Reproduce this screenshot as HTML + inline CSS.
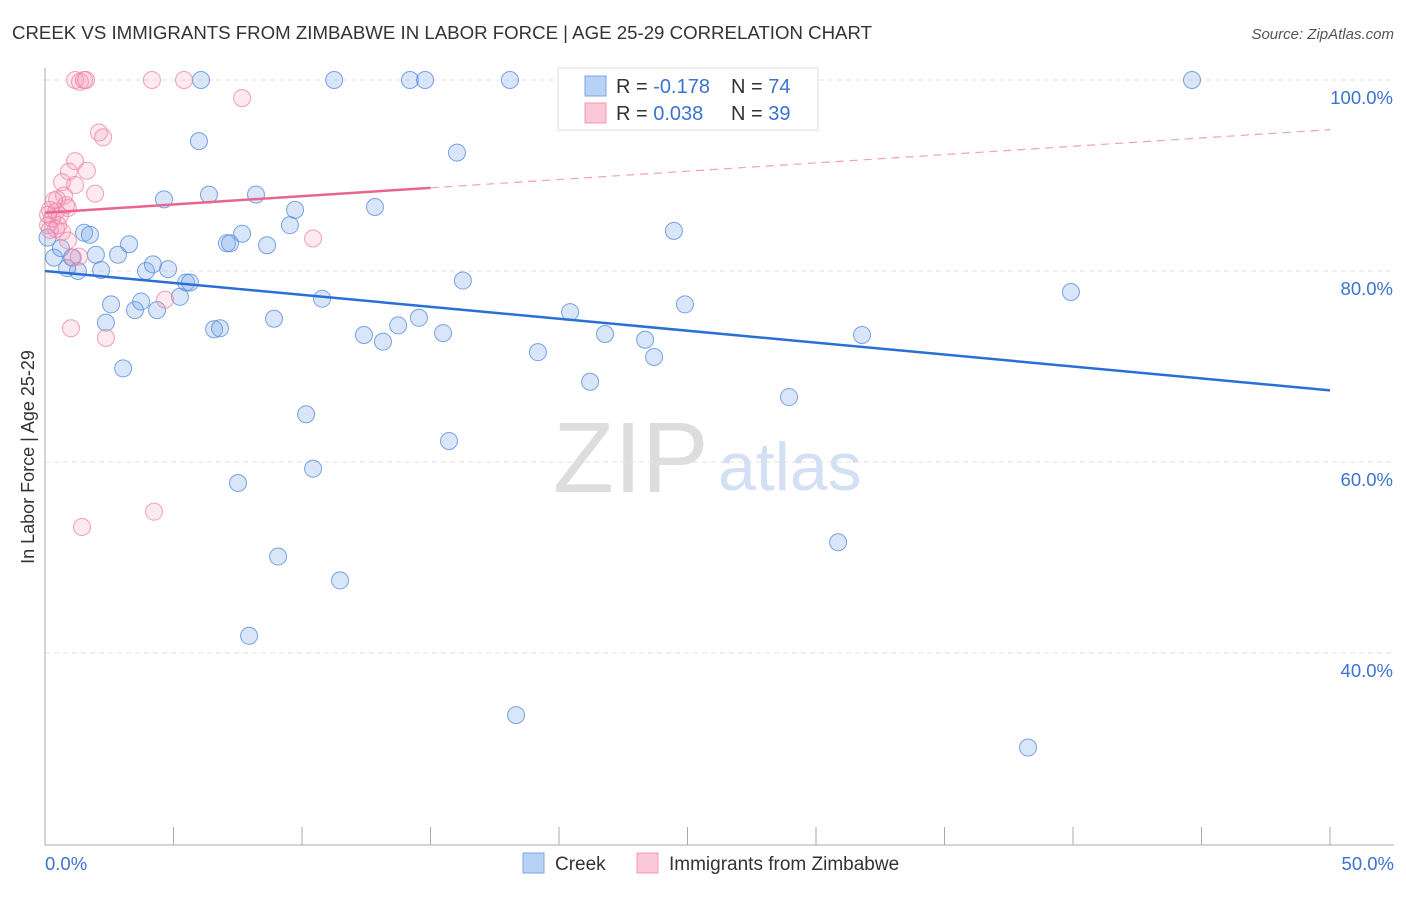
<!DOCTYPE html>
<html><head><meta charset="utf-8"><style>
body{margin:0;background:#fff;font-family:"Liberation Sans",sans-serif}
svg text{font-family:"Liberation Sans",sans-serif}
</style></head><body>
<svg id="chart" width="1406" height="892">
<text x="12" y="39" font-size="18" fill="#333" textLength="860" lengthAdjust="spacingAndGlyphs">CREEK VS IMMIGRANTS FROM ZIMBABWE IN LABOR FORCE | AGE 25-29 CORRELATION CHART</text>
<text x="1394" y="39" font-size="15" fill="#555" font-style="italic" text-anchor="end">Source: ZipAtlas.com</text>
<text x="553" y="492" font-size="100" fill="#ddd" font-family="Liberation Serif">ZIP</text>
<text x="718" y="490" font-size="68" fill="#d3e0f3">atlas</text>
<g id="grid"></g><g id="marks"></g>
<text transform="translate(34,457) rotate(-90)" font-size="18" fill="#333" text-anchor="middle">In Labor Force | Age 25-29</text>
<g>
<rect x="558" y="68" width="260" height="62" fill="#fff" stroke="#ddd"/>
<rect x="585" y="76" width="21" height="20" fill="#b8d2f5" stroke="#7aa6e6"/>
<rect x="585" y="103" width="21" height="20" fill="#fac8d6" stroke="#f09ab3"/>
<text x="616" y="93" font-size="20" fill="#333">R = <tspan fill="#3b73d0">-0.178</tspan></text>
<text x="731" y="93" font-size="20" fill="#333">N = <tspan fill="#3b73d0">74</tspan></text>
<text x="616" y="120" font-size="20" fill="#333">R = <tspan fill="#3b73d0"> 0.038</tspan></text>
<text x="731" y="120" font-size="20" fill="#333">N = <tspan fill="#3b73d0">39</tspan></text>
</g>
<g>
<rect x="523" y="853" width="21" height="20" fill="#b8d2f5" stroke="#7aa6e6"/>
<text x="555" y="870" font-size="19" fill="#333">Creek</text>
<rect x="637" y="853" width="21" height="20" fill="#fac8d6" stroke="#f09ab3"/>
<text x="669" y="870" font-size="19" fill="#333">Immigrants from Zimbabwe</text>
</g>
</svg>
<script>
const yTicks=[100,80,60,40];
const yTickLabels=["100.0%","80.0%","60.0%","40.0%"];
const creekX=[0.35,0.62,0.86,1.05,1.28,1.52,1.75,1.98,2.18,2.37,2.57,2.84,3.04,3.27,3.5,3.74,3.93,4.2,4.36,4.63,4.79,5.25,5.49,5.64,5.99,6.07,6.38,6.58,6.81,7.08,7.2,7.51,7.67,7.94,8.21,8.64,8.91,9.07,9.53,9.73,10.16,10.43,10.78,11.25,11.48,12.41,12.84,13.15,13.74,14.2,14.55,14.79,15.49,15.72,16.03,16.26,18.09,18.33,19.18,20.43,21.21,21.79,23.35,23.7,24.47,24.9,27.3,28.95,30.86,31.79,38.25,39.92,44.63,0.1];
const creekY=[81.4,82.4,80.3,81.4,80.0,84.0,83.8,81.7,80.1,74.6,76.5,81.7,69.8,82.8,75.9,76.8,80.0,80.7,75.9,87.5,80.2,77.3,78.8,78.8,93.6,100,88.0,73.9,74.0,82.9,82.9,57.8,83.9,41.8,88.0,82.7,75.0,50.1,84.8,86.4,65.0,59.3,77.1,100,47.6,73.3,86.7,72.6,74.3,100,75.1,100,73.5,62.2,92.4,79.0,100,33.5,71.5,75.7,68.4,73.4,72.8,71.0,84.2,76.5,100,66.8,51.6,73.3,30.1,77.8,100,83.5];
const zimX=[1.17,1.36,1.52,1.6,4.16,5.41,7.67,2.1,2.26,1.17,0.93,1.63,0.66,1.17,1.95,0.74,0.47,0.19,0.43,0.89,0.27,0.58,0.12,0.43,0.66,0.89,1.09,1.32,1.01,2.37,1.44,4.24,4.67,10.43,0.19,0.51,0.82,0.35,0.12];
const zimY=[100,99.8,100,100,100,100,98.1,94.5,94.0,91.5,90.4,90.5,89.3,89.0,88.1,87.9,87.5,86.4,86.2,86.6,85.5,85.8,84.8,84.4,84.1,83.2,81.4,81.5,74.0,73.0,53.2,54.8,77.0,83.4,84.3,84.8,86.9,87.4,85.9];
const creekTrend=[80.0,67.5];
const zimTrend=[86.1,94.8];
const X=v=>45+v/50*1285, Y=v=>80+(100-v)*9.55;
const NS="http://www.w3.org/2000/svg";
const grid=document.getElementById('grid'), marks=document.getElementById('marks');
function mk(tag,attrs,parent){const e=document.createElementNS(NS,tag);for(const k in attrs)e.setAttribute(k,attrs[k]);parent.appendChild(e);return e;}
yTicks.forEach((t,i)=>{
 const l=mk('line',{x1:45,x2:1394,y1:Y(t),y2:Y(t),stroke:'#e2e2e2','stroke-dasharray':'5,4'},grid);
 
 
 const tx=mk('text',{x:1393,y:Y(t)+24,'font-size':18.5,fill:'#3b73d0','text-anchor':'end'},grid);
 tx.textContent=yTickLabels[i];
 
 
});
const ax=mk('line',{x1:45,x2:45,y1:68,y2:845,stroke:'#aaa'},grid);


const bx=mk('line',{x1:45,x2:1394,y1:845,y2:845,stroke:'#aaa'},grid);


for(let i=0;i<=10;i++){const t=mk('line',{x1:X(i*5),x2:X(i*5),y1:827,y2:845,stroke:'#aaa'},grid);
 
 }
[["0.0%",45,'start'],["50.0%",1394,'end']].forEach(a=>{const t=mk('text',{x:a[1],y:870,'font-size':18.5,fill:'#3b73d0','text-anchor':a[2]},grid);t.textContent=a[0];
 
 });
creekX.forEach((v,i)=>{const c=mk('circle',{cx:X(v),cy:Y(creekY[i]),r:8.5,fill:'rgba(120,165,235,0.28)',stroke:'rgba(80,135,220,0.75)','stroke-width':1},marks);
 
 });
zimX.forEach((v,i)=>{const c=mk('circle',{cx:X(v),cy:Y(zimY[i]),r:8.5,fill:'rgba(245,155,185,0.22)',stroke:'rgba(238,130,165,0.75)','stroke-width':1},marks);
 
 });
const cl=mk('line',{x1:X(0),y1:Y(creekTrend[0]),x2:X(50),y2:Y(creekTrend[1]),stroke:'#2a6fd6','stroke-width':2.5},marks);


const zAt=x=>zimTrend[0]+(zimTrend[1]-zimTrend[0])*x/50;
const zl=mk('line',{x1:X(0),y1:Y(zAt(0)),x2:X(15),y2:Y(zAt(15)),stroke:'#e8668e','stroke-width':2.5},marks);


const zd=mk('line',{x1:X(15),y1:Y(zAt(15)),x2:X(50),y2:Y(zAt(50)),stroke:'#f0a0b8','stroke-width':1.2,'stroke-dasharray':'8,6'},marks);


</script>
</body></html>
